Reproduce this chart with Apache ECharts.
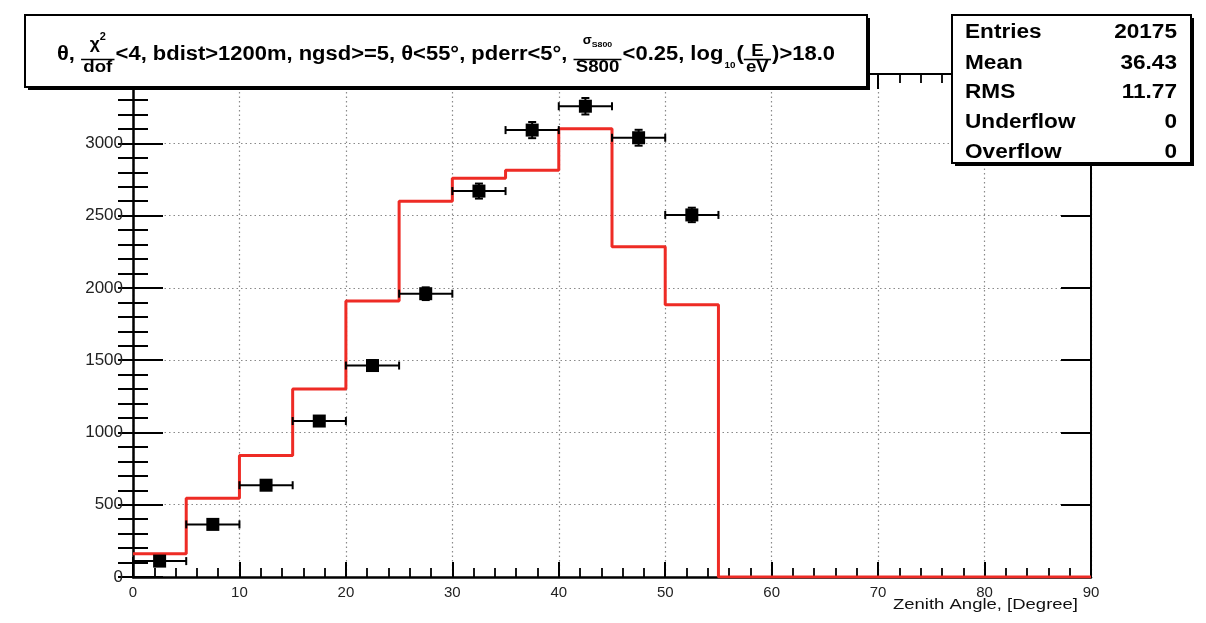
<!DOCTYPE html>
<html>
<head>
<meta charset="utf-8">
<script src="https://cdn.jsdelivr.net/npm/echarts@6/dist/echarts.min.js"></script>
<style>
  html, body { margin: 0; padding: 0; background: #fff; }
  #chart { width: 1206px; height: 623px; }
</style>
</head>
<body>
<div id="chart"></div>
<script>
// ---- Histogram: simulated zenith-angle distribution (5 degree bins, left edges) ----
const binLow   = [0, 5, 10, 15, 20, 25, 30, 35, 40, 45, 50, 55, 60, 65, 70, 75, 80, 85];
const mcCounts = [160, 545, 840, 1300, 1910, 2600, 2758, 2814, 3101, 2284, 1884, 0, 0, 0, 0, 0, 0, 0];
const axisEnd  = 90;

// ---- Measured events (bin centres, counts, errors) ----
const dataCenters = [2.5, 7.5, 12.5, 17.5, 22.5, 27.5, 32.5, 37.5, 42.5, 47.5, 52.5];
const dataCounts  = [110, 364, 635, 1079, 1463, 1960, 2670, 3092, 3257, 3039, 2505];
const dataErrY    = [10, 19, 25, 33, 38, 44, 52, 56, 57, 55, 50];
const dataErrX    = [2.5, 2.5, 2.5, 2.5, 2.5, 2.5, 2.5, 2.5, 2.5, 2.5, 2.5];

// ---- Statistics box ----
const statLabels = ['Entries', 'Mean', 'RMS', 'Underflow', 'Overflow'];
const statValues = ['20175', '36.43', '11.77', '0', '0'];

// ---- Axis setup ----
const yMax = 3480;
const xTitle = 'Zenith Angle, [Degree]';

// ---- Title (selection cuts), written as a sequence of pieces ----
const titlePieces = [
  { text: 'θ, ' },
  { num: [['χ', 'greek'], ['2', 'sup']], den: [['dof', 'frac']] },
  { text: '<4, bdist>1200m, ngsd>=5, θ<55°, pderr<5°, ' },
  { num: [['σ', 'sigma'], ['S800', 'tinysub']], den: [['S800', 'frac']] },
  { text: '<0.25, log' },
  { sub: '10' },
  { text: '(' },
  { num: [['E', 'frac']], den: [['eV', 'frac']] },
  { text: ')>18.0' }
];

const FONT = 'Liberation Sans, Arial, Helvetica, sans-serif';
const measureCtx = document.createElement('canvas').getContext('2d');
function textWidth(str, size, weight) {
  measureCtx.font = (weight || 'bold') + ' ' + size + 'px ' + FONT;
  return measureCtx.measureText(str).width;
}
function textEl(x, y, str, size, opts) {
  opts = opts || {};
  return {
    type: 'text', x: x, y: y, z: 110, scaleX: opts.scaleX || 1,
    style: {
      text: str, fontSize: size, fontFamily: FONT, fontWeight: opts.weight || 'bold',
      fill: opts.fill || '#000', align: opts.align || 'left', verticalAlign: 'middle'
    }
  };
}

// piece styles: font size and vertical centre (in px)
const roleStyle = {
  main:    { size: 20, y: 54 },
  frac:    { size: 17, yNum: 51, yDen: 67 },
  greek:   { size: 16, yNum: 45 },
  sup:     { size: 10, yNum: 37 },
  sigma:   { size: 12, yNum: 41 },
  tinysub: { size: 8,  yNum: 45 },
  sub:     { size: 9,  y: 66 }
};

function buildTitle() {
  const children = [];
  let cur = 0;
  const barY = 59.5;
  titlePieces.forEach(p => {
    if (p.text !== undefined) {
      children.push(textEl(cur, roleStyle.main.y, p.text, roleStyle.main.size));
      cur += textWidth(p.text, roleStyle.main.size);
    } else if (p.sub !== undefined) {
      children.push(textEl(cur + 1, roleStyle.sub.y, p.sub, roleStyle.sub.size));
      cur += textWidth(p.sub, roleStyle.sub.size) + 2;
    } else {
      const partW = part => textWidth(part[0], roleStyle[part[1]].size);
      const numW = p.num.reduce((a, q) => a + partW(q), 0);
      const denW = p.den.reduce((a, q) => a + partW(q), 0);
      const fw = Math.max(numW, denW) + 4;
      children.push({
        type: 'line', z: 110,
        shape: { x1: cur, y1: barY, x2: cur + fw, y2: barY },
        style: { stroke: '#000', lineWidth: 1.6 }
      });
      let nx = cur + (fw - numW) / 2;
      p.num.forEach(q => {
        const st = roleStyle[q[1]];
        children.push(textEl(nx, st.yNum, q[0], st.size));
        nx += partW(q);
      });
      let dx = cur + (fw - denW) / 2;
      p.den.forEach(q => {
        const st = roleStyle[q[1]];
        children.push(textEl(dx, st.yDen, q[0], st.size));
        dx += partW(q);
      });
      cur += fw + 1;
    }
  });
  return { children: children, width: cur };
}

const title = buildTitle();
const titleLeft = 57, titleRight = 835;
const titleScale = (titleRight - titleLeft) / title.width;

function boxWithShadow(x, y, w, h) {
  return [
    { type: 'rect', z: 105, shape: { x: x + 3, y: y + 3, width: w, height: h }, style: { fill: '#000' } },
    { type: 'rect', z: 106, shape: { x: x, y: y, width: w, height: h }, style: { fill: '#fff', stroke: '#000', lineWidth: 2 } }
  ];
}

const graphicEls = [];
boxWithShadow(25, 15, 842, 72).forEach(e => graphicEls.push(e));
graphicEls.push({ type: 'group', x: titleLeft, y: 0, scaleX: titleScale, z: 110, children: title.children });

boxWithShadow(952, 15, 239, 148).forEach(e => graphicEls.push(e));
const statRowY = [32.5, 63, 92.5, 122, 152];
statLabels.forEach((lab, i) => {
  graphicEls.push(textEl(965, statRowY[i], lab, 20, { scaleX: 1.13 }));
  graphicEls.push(textEl(1177, statRowY[i], statValues[i], 20, { scaleX: 1.13, align: 'right' }));
});

const xTitleScale = 185 / textWidth(xTitle, 15, 'normal');
graphicEls.push(textEl(1078, 605, xTitle, 15, { weight: 'normal', align: 'right', scaleX: xTitleScale, fill: '#111' }));

// ---- Series data built from the arrays ----
const histData = binLow.map((x, i) => [x, mcCounts[i]]);
histData.push([axisEnd, 0]);
const pointData = dataCenters.map((x, i) => [x, dataCounts[i], dataErrX[i], dataErrY[i]]);

const frameLine = w => ({ show: true, onZero: false, lineStyle: { color: '#000', width: w } });
const dotted = { show: true, lineStyle: { color: '#8a8a8a', width: 1.2, type: [1.5, 3] } };

function errorBars(params, api) {
  const x = api.value(0), y = api.value(1), ex = api.value(2), ey = api.value(3);
  const l = api.coord([x - ex, y]), r = api.coord([x + ex, y]);
  const t = api.coord([x, y + ey]), b = api.coord([x, y - ey]);
  const cap = 4;
  const st = { stroke: '#000', lineWidth: 2 };
  const seg = (x1, y1, x2, y2) => ({ type: 'line', shape: { x1, y1, x2, y2 }, style: st });
  return {
    type: 'group',
    children: [
      seg(l[0], l[1], r[0], r[1]),
      seg(l[0], l[1] - cap, l[0], l[1] + cap),
      seg(r[0], r[1] - cap, r[0], r[1] + cap),
      seg(t[0], t[1], b[0], b[1]),
      seg(t[0] - cap, t[1], t[0] + cap, t[1]),
      seg(b[0] - cap, b[1], b[0] + cap, b[1])
    ]
  };
}

const chart = echarts.init(document.getElementById('chart'), null, { renderer: 'canvas' });
chart.setOption({
  animation: false,
  backgroundColor: '#fff',
  grid: { left: 133, right: 115, top: 74, bottom: 46, containLabel: false, outerBoundsMode: 'none' },
  xAxis: [
    {
      type: 'value', position: 'bottom', min: 0, max: axisEnd, interval: 10,
      axisLine: frameLine(2.5),
      axisTick: { show: true, inside: true, length: 15, lineStyle: { color: '#000', width: 2 } },
      minorTick: { show: true, splitNumber: 5, length: 9, lineStyle: { color: '#000', width: 1.8 } },
      splitLine: dotted,
      axisLabel: { show: true, margin: 8, fontSize: 15, fontFamily: FONT, color: '#222', formatter: v => String(v) }
    },
    {
      type: 'value', position: 'top', min: 0, max: axisEnd, interval: 10,
      axisLine: frameLine(2),
      axisTick: { show: true, inside: true, length: 15, lineStyle: { color: '#000', width: 2 } },
      minorTick: { show: true, splitNumber: 5, length: 9, lineStyle: { color: '#000', width: 1.8 } },
      splitLine: { show: false }, axisLabel: { show: false }
    }
  ],
  yAxis: [
    {
      type: 'value', position: 'left', min: 0, max: yMax, interval: 500,
      axisLine: frameLine(2.5),
      axisTick: { show: true, inside: true, length: 30, lineStyle: { color: '#000', width: 2 } },
      splitLine: dotted,
      axisLabel: { show: true, margin: 10, fontSize: 17, fontFamily: FONT, color: '#222', showMaxLabel: false, formatter: v => String(v) }
    },
    {
      type: 'value', position: 'left', min: 0, max: yMax, interval: 100,
      axisLine: { show: false },
      axisTick: { show: true, inside: true, length: 15, lineStyle: { color: '#000', width: 2 } },
      splitLine: { show: false }, axisLabel: { show: false }
    },
    {
      type: 'value', position: 'right', min: 0, max: yMax, interval: 500,
      axisLine: frameLine(2),
      axisTick: { show: true, inside: true, length: 30, lineStyle: { color: '#000', width: 2 } },
      splitLine: { show: false }, axisLabel: { show: false }
    },
    {
      type: 'value', position: 'right', min: 0, max: yMax, interval: 100,
      axisLine: { show: false },
      axisTick: { show: true, inside: true, length: 15, lineStyle: { color: '#000', width: 2 } },
      splitLine: { show: false }, axisLabel: { show: false }
    }
  ],
  series: [
    {
      type: 'line', name: 'simulation', data: histData, step: 'end',
      xAxisIndex: 0, yAxisIndex: 0, symbol: 'none', z: 3,
      lineStyle: { color: '#ee2b25', width: 3 }
    },
    {
      type: 'custom', name: 'errors', data: pointData, renderItem: errorBars,
      xAxisIndex: 0, yAxisIndex: 0, z: 4, clip: false
    },
    {
      type: 'scatter', name: 'data', data: pointData.map(p => [p[0], p[1]]),
      xAxisIndex: 0, yAxisIndex: 0, symbol: 'rect', symbolSize: 13, z: 5,
      itemStyle: { color: '#000', opacity: 1 }
    }
  ],
  graphic: { elements: graphicEls }
});
</script>
</body>
</html>
